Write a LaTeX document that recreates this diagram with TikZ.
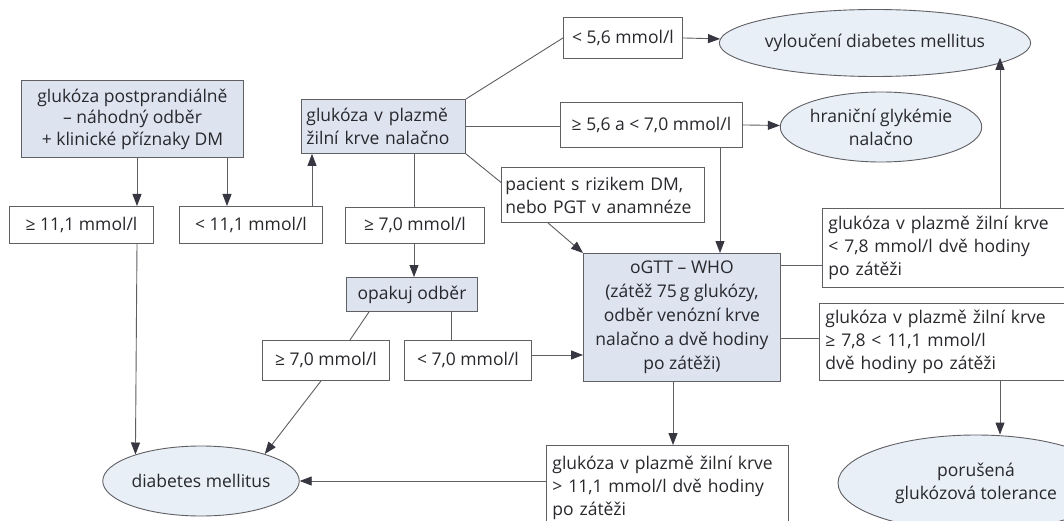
\documentclass[tikz,border=0pt]{standalone}
\usepackage{fontspec}
\setmainfont{Open Sans}
\usetikzlibrary{arrows.meta,shapes.geometric,calc}
\definecolor{boxfill}{RGB}{221,228,240}
\definecolor{ellfill}{RGB}{232,239,247}
\definecolor{linec}{RGB}{95,95,100}
\definecolor{arrc}{RGB}{55,55,65}
\definecolor{txt}{RGB}{40,40,45}
\hyphenpenalty=10000
\begin{document}
\begin{tikzpicture}[x=1pt,y=-1pt,
  every node/.style={font=\fontsize{17.5}{23}\selectfont, text=txt},
  box/.style={draw=linec, line width=0.9pt, inner sep=0pt, rectangle, anchor=north west},
  fbox/.style={box, fill=boxfill},
  ell/.style={draw=linec, line width=0.9pt, fill=ellfill, ellipse, inner sep=0pt},
  conn/.style={draw=linec, line width=0.9pt},
  arr/.style={conn, -{Triangle[length=12pt,width=9pt,color=arrc]}},
]
\useasboundingbox (0,0) rectangle (1064,521);
\clip (0,0) rectangle (1064,521);
\fill[white] (0,0) rectangle (1064,521);

% helper coordinates
\coordinate (x137) at (137,0);
\coordinate (x227) at (227,0);
\coordinate (x312) at (312,0);
\coordinate (x414) at (414,0);
\coordinate (x720) at (720,0);
\coordinate (x548) at (548,0);
\coordinate (x369) at (369,0);
\coordinate (x350) at (350,0);
\coordinate (x451) at (451,0);
\coordinate (x321) at (321,0);
\coordinate (x673) at (673,0);
\coordinate (x1000) at (1000,0);
\coordinate (y265) at (0,265);
\coordinate (y338) at (0,338);
\coordinate (y355) at (0,355);

% nodes
\node[fbox, minimum width=222pt, minimum height=77pt, align=center, font=\fontsize{17.5}{21.5}\selectfont] (gp) at (21,80)
  {glukóza postprandiálně\\– náhodný odběr\\+ klinické příznaky DM};
\node[fbox, minimum height=54pt, text width=154pt, inner xsep=5pt, align=left] (gv) at (301,99)
  {glukóza v plazmě\\žilní krve nalačno};
\node[box, minimum width=144pt, minimum height=37pt] (ge111) at (9,206) {≥ 11,1 mmol/l};
\node[box, minimum width=143pt, minimum height=37pt] (lt111) at (179,206) {< 11,1 mmol/l};
\node[box, minimum width=119pt, minimum height=41pt] (lt56) at (563,17) {< 5,6 mmol/l};
\node[box, minimum width=182pt, minimum height=45pt] (ge56) at (560,102) {≥ 5,6 a < 7,0 mmol/l};
\node[box, minimum height=55pt, text width=195pt, inner xsep=4pt, align=left] (pac) at (501,167)
  {pacient s rizikem DM,\\nebo PGT v anamnéze};
\node[box, minimum width=139pt, minimum height=36pt] (ge70a) at (345,207) {≥ 7,0 mmol/l};
\node[fbox, minimum width=131pt, minimum height=34pt] (opak) at (346,277) {opakuj odběr};
\node[box, minimum width=127pt, minimum height=40pt] (ge70b) at (262,340) {≥ 7,0 mmol/l};
\node[box, minimum width=127pt, minimum height=40pt] (lt70) at (404,340) {< 7,0 mmol/l};
\node[fbox, minimum width=197pt, minimum height=128pt, align=center, font=\fontsize{17.5}{24}\selectfont] (ogtt) at (583,253)
  {oGTT – WHO\\(zátěž 75\,g glukózy,\\odběr venózní krve\\nalačno a dvě hodiny\\po zátěži)};
\node[box, minimum height=79pt, text width=242pt, inner xsep=6pt, align=left] (lt78) at (822,208)
  {glukóza v plazmě žilní krve\\< 7,8 mmol/l dvě hodiny\\po zátěži};
\node[box, minimum height=77pt, text width=242pt, inner xsep=6pt, align=left] (ge78) at (819,303)
  {glukóza v plazmě žilní krve\\≥ 7,8 < 11,1 mmol/l\\dvě hodiny po zátěži};
\node[box, minimum height=85pt, text width=230pt, inner xsep=6pt, align=left] (gt111) at (546,445)
  {glukóza v plazmě žilní krve\\> 11,1 mmol/l dvě hodiny\\po zátěži};

\node[ell, minimum width=273pt, minimum height=67pt] (vyl) at (875,43) {vyloučení diabetes mellitus};
\node[ell, minimum width=181pt, minimum height=70pt, align=center] (hran) at (881,127) {hraniční glykémie\\nalačno};
\node[ell, minimum width=194pt, minimum height=70pt] (dm) at (201,481) {diabetes mellitus};
\node[ell, minimum width=276pt, minimum height=96pt, align=center] (por) at (976,483) {porušená\\glukózová tolerance};

% connectors
\draw[arr] (gp.south -| x137) -- (ge111.north -| x137);
\draw[arr] (gp.south -| x227) -- (lt111.north -| x227);
\draw[arr] (lt111.north -| x312) -- (gv.south -| x312);
\draw[conn] (gv.north east) -- (lt56.west);
\draw[conn] (gv.east) -- (gv.east -| ge56.west);
\draw[conn] (gv.south east) -- ([yshift=12.5pt]pac.west);
\draw[conn] (gv.south -| x414) -- (ge70a.north -| x414);
\draw[arr] (ge70a.south -| x414) -- (opak.north -| x414);
\draw[arr] (lt56.east) -- (vyl);
\draw[arr] (ge56.east) -- (hran);
\draw[arr] (ge56.south -| x720) -- (ogtt.north -| x720);
\draw[arr] (pac.south -| x548) -- (ogtt.north west);
\draw[conn] (opak.south -| x369) -- (ge70b.north -| x350);
\draw[conn] (opak.south -| x451) -- (lt70.north -| x451);
\draw[arr] (ge70b.south -| x321) -- (dm.23);
\draw[arr] (ge111.south -| x137) -- (dm.158);
\draw[arr] (lt70.east |- y355) -- (ogtt.west |- y355);
\draw[arr] (ogtt.south -| x673) -- (gt111.north -| x673);
\draw[arr] (gt111.west |- dm.east) -- (dm.east);
\draw[conn] (ogtt.east |- y265) -- (lt78.west |- y265);
\draw[conn] (ogtt.east |- y338) -- (ge78.west |- y338);
\draw[arr] (lt78.north -| x1000) -- (x1000 |- vyl.-6);
\draw[arr] (ge78.south -| x1000) -- (x1000 |- por.north);
\end{tikzpicture}
\end{document}
